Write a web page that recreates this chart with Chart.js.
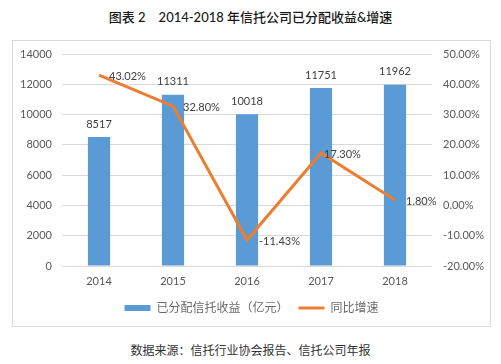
<!DOCTYPE html>
<html lang="zh">
<head>
<meta charset="UTF-8">
<title>2014-2018 年信托公司已分配收益&amp;增速</title>
<script src="https://cdn.jsdelivr.net/npm/chart.js"></script>
<style>
    html, body { margin: 0; padding: 0; background: #fff; }
    body { width: 501px; height: 364px; position: relative; overflow: hidden; font-family: Lato, "Noto Sans CJK SC", sans-serif; }
    .title { position: absolute; left: 0; top: 7px; width: 501px; text-align: center; font-size: 13px; font-weight: 500; color: #1a1a1a; }
    .chart-box { position: absolute; left: 12px; top: 40px; width: 479px; height: 287px; border: 1px solid #d9d9d9; box-sizing: border-box; }
    .chart-box canvas { display: block; }
    .source { position: absolute; left: 0; top: 341px; width: 501px; text-align: center; font-size: 12px; color: #333; font-family: "Noto Sans CJK SC", sans-serif; }
</style>
</head>
<body>
    <div class="title">图表 2&nbsp;&nbsp;&nbsp;&nbsp;2014-2018 年信托公司已分配收益&amp;增速</div>
    <div class="chart-box">
        <canvas id="incomeChart" width="477" height="285"></canvas>
    </div>
    <div class="source">数据来源：信托行业协会报告、信托公司年报</div>

<script>
// data
const years = ['2014', '2015', '2016', '2017', '2018'];
const income = [8517, 11311, 10018, 11751, 11962];       // 亿元
const growth = [43.02, 32.80, -11.43, 17.30, 1.80];      // %
const incomeTicks = [0, 2000, 4000, 6000, 8000, 10000, 12000, 14000];
const growthTicks = [-20, -10, 0, 10, 20, 30, 40, 50];

// label nudges for the growth line (px to the right of the point)
const growthLabelDx = [10, 10, 12, 3, 11];

const BLUE = '#5B9BD5';
const ORANGE = '#ED7D31';
const FONT = 'Lato, "Noto Sans CJK SC", sans-serif';

const valueLabels = {
    id: 'valueLabels',
    afterDatasetsDraw(chart) {
        const ctx = chart.ctx;
        ctx.save();
        ctx.font = '11px ' + FONT;
        ctx.fillStyle = '#404040';
        ctx.textBaseline = 'middle';

        const bars = chart.getDatasetMeta(0).data;
        ctx.textAlign = 'center';
        bars.forEach((bar, i) => {
            ctx.fillText(String(income[i]), bar.x, bar.y - 13);
        });

        const pts = chart.getDatasetMeta(1).data;
        ctx.textAlign = 'left';
        pts.forEach((pt, i) => {
            ctx.fillText(growth[i].toFixed(2) + '%', pt.x + growthLabelDx[i], pt.y + 1);
        });
        ctx.restore();
    }
};

// fixed axis widths, no extra room above/below the plot
function fixWidth(w) {
    return function (scale) {
        scale.width = w;
        scale.paddingTop = 0;
        scale.paddingBottom = 0;
    };
}

const ctx = document.getElementById('incomeChart').getContext('2d');
new Chart(ctx, {
    data: {
        labels: years,
        datasets: [
            {
                type: 'bar',
                label: '已分配信托收益（亿元）',
                data: income,
                backgroundColor: BLUE,
                borderWidth: 0,
                barPercentage: 0.5,
                categoryPercentage: 0.6,
                yAxisID: 'y',
                order: 2
            },
            {
                type: 'line',
                label: '同比增速',
                data: growth,
                borderColor: ORANGE,
                backgroundColor: ORANGE,
                borderWidth: 3,
                pointRadius: 0,
                tension: 0,
                fill: false,
                yAxisID: 'y1',
                order: 1
            }
        ]
    },
    options: {
        responsive: false,
        animation: false,
        layout: { padding: { top: 13, left: 0, right: 0, bottom: 2 } },
        plugins: {
            tooltip: { enabled: false },
            legend: {
                position: 'bottom',
                labels: {
                    font: { size: 12, family: FONT },
                    color: '#6a6a6a',
                    usePointStyle: true,
                    pointStyleWidth: 26,
                    boxHeight: 6,
                    padding: 10,
                    generateLabels() {
                        return [
                            { text: '已分配信托收益（亿元）', fillStyle: BLUE, strokeStyle: BLUE, lineWidth: 0, pointStyle: 'rect', fontColor: '#6a6a6a', datasetIndex: 0 },
                            { text: '同比增速', fillStyle: ORANGE, strokeStyle: ORANGE, lineWidth: 3, pointStyle: 'line', fontColor: '#6a6a6a', datasetIndex: 1 }
                        ];
                    }
                }
            }
        },
        scales: {
            x: {
                grid: { display: false, drawTicks: false },
                border: { display: false },
                ticks: { color: '#595959', font: { size: 11, family: FONT }, padding: 9 },
                afterFit(scale) { scale.height = 26; }
            },
            y: {
                position: 'left',
                min: 0,
                max: 14000,
                afterBuildTicks(scale) { scale.ticks = incomeTicks.map(v => ({ value: v })); },
                grid: { color: '#d9d9d9', lineWidth: 1, drawTicks: false },
                border: { display: false },
                ticks: {
                    color: '#595959',
                    font: { size: 11, family: FONT },
                    padding: 10,
                    callback: v => String(v)
                },
                afterFit: fixWidth(49)
            },
            y1: {
                position: 'right',
                min: -20,
                max: 50,
                afterBuildTicks(scale) { scale.ticks = growthTicks.map(v => ({ value: v })); },
                grid: { display: false, drawTicks: false },
                border: { display: false },
                ticks: {
                    color: '#595959',
                    font: { size: 11, family: FONT },
                    padding: 11,
                    callback: v => Number(v).toFixed(2) + '%'
                },
                afterFit: fixWidth(58)
            }
        }
    },
    plugins: [valueLabels]
});
</script>
</body>
</html>
